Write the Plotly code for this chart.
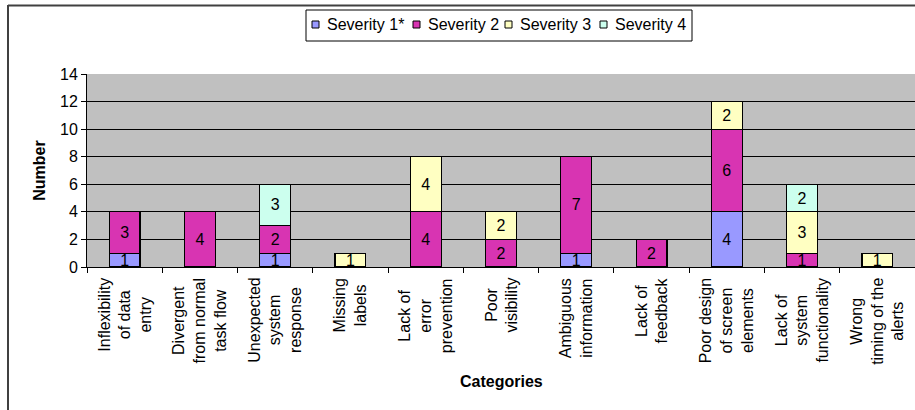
import plotly.graph_objects as go

categories = [
    "Inflexibility<br>of data<br>entry",
    "Divergent<br>from normal<br>task flow",
    "Unexpected<br>system<br>response",
    "Missing<br>labels",
    "Lack of<br>error<br>prevention",
    "Poor<br>visibility",
    "Ambiguous<br>information",
    "Lack of<br>feedback",
    "Poor design<br>of screen<br>elements",
    "Lack of<br>system<br>functionality",
    "Wrong<br>timing of the<br>alerts",
]
cat_ids = [f"c{i}" for i in range(len(categories))]

severity1 = [1, None, 1, None, None, None, 1, None, 4, None, None]
severity2 = [3, 4, 2, None, 4, 2, 7, 2, 6, 1, None]
severity3 = [None, None, None, 1, 4, 2, None, None, 2, 3, 1]
severity4 = [None, None, 3, None, None, None, None, None, None, 2, None]

series_names = ["Severity 1*", "Severity 2", "Severity 3", "Severity 4"]
series_values = [severity1, severity2, severity3, severity4]
series_colors = ["#9999FF", "#D834B2", "#FFFFC2", "#CCFFEE"]

yticks = [0, 2, 4, 6, 8, 10, 12, 14]

FONT = "Liberation Sans, Arial, sans-serif"
FS = 16

fig = go.Figure()
for name, vals, col in zip(series_names, series_values, series_colors):
    fig.add_trace(go.Bar(
        name=name, x=cat_ids, y=vals,
        marker=dict(color=col, line=dict(color="black", width=1.2)),
        text=[("" if v is None else str(v)) for v in vals],
        textposition="inside", insidetextanchor="middle",
        constraintext="none", textangle=0,
        textfont=dict(family=FONT, size=FS, color="black"),
        showlegend=False,
    ))

W, H = 915, 410
ml, mr, mt, mb = 87, 0, 74, 143
pw = W - ml - mr
ph = H - mt - mb

def px_x(px):
    return (px - ml) / pw

def px_y(py):
    return 1 - (py - mt) / ph

annotations = []
for cid, lab in zip(cat_ids, categories):
    annotations.append(dict(
        x=cid, xref="x", y=px_y(276), yref="paper",
        text=lab, textangle=-90, align="center",
        xanchor="center", yanchor="top", showarrow=False,
        font=dict(family=FONT, size=FS, color="black"),
    ))
annotations.append(dict(
    x=0.5, xref="paper", y=px_y(381), yref="paper",
    text="<b>Categories</b>", showarrow=False,
    xanchor="center", yanchor="middle",
    font=dict(family=FONT, size=FS, color="black"),
))

shapes = [
    dict(type="line", xref="paper", yref="paper",
         x0=px_x(8), x1=px_x(8), y0=px_y(5), y1=px_y(415),
         line=dict(color="black", width=1.5)),
    dict(type="line", xref="paper", yref="paper",
         x0=px_x(8), x1=px_x(920), y0=px_y(5.5), y1=px_y(5.5),
         line=dict(color="#404040", width=2)),
]

# custom legend (box, swatches, labels)
leg_left, leg_right, leg_top, leg_bottom = 306, 692, 10, 41
leg_cy = 24.5
swatch_px = [312, 413, 505, 600]
sw = 7
shapes.append(dict(type="rect", xref="paper", yref="paper",
                   x0=px_x(leg_left), x1=px_x(leg_right),
                   y0=px_y(leg_top), y1=px_y(leg_bottom),
                   line=dict(color="black", width=1), fillcolor="white",
                   layer="above"))
for name, col, sx in zip(series_names, series_colors, swatch_px):
    shapes.append(dict(type="rect", xref="paper", yref="paper",
                       x0=px_x(sx), x1=px_x(sx + sw),
                       y0=px_y(leg_cy - sw / 2), y1=px_y(leg_cy + sw / 2),
                       line=dict(color="black", width=1), fillcolor=col,
                       layer="above"))
    annotations.append(dict(
        x=px_x(sx + 13), xref="paper", y=px_y(leg_cy), yref="paper",
        text=name, showarrow=False, xanchor="left", yanchor="middle",
        font=dict(family=FONT, size=FS, color="black"),
    ))

fig.update_layout(
    width=W, height=H,
    margin=dict(l=ml, r=mr, t=mt, b=mb, pad=0),
    paper_bgcolor="white", plot_bgcolor="#C0C0C0",
    barmode="stack", bargap=0.59,
    font=dict(family=FONT, size=FS, color="black"),
    showlegend=False,
    annotations=annotations,
    shapes=shapes,
)
fig.update_xaxes(
    type="category", categoryorder="array", categoryarray=cat_ids,
    showticklabels=False, ticks="outside", tickson="boundaries",
    ticklen=5, tickcolor="black", showline=True, linecolor="black",
    linewidth=1, showgrid=False, zeroline=False,
)
fig.update_yaxes(
    range=[0, 14], tickvals=yticks, ticks="outside", ticklen=5,
    tickcolor="black", showline=True, linecolor="black", linewidth=1,
    showgrid=True, gridcolor="black", gridwidth=1, zeroline=False,
    tickfont=dict(family=FONT, size=FS, color="black"),
    title=dict(text="<b>Number</b>", standoff=10,
               font=dict(family=FONT, size=FS, color="black")),
    automargin=False,
)

fig.write_html("out.html")
